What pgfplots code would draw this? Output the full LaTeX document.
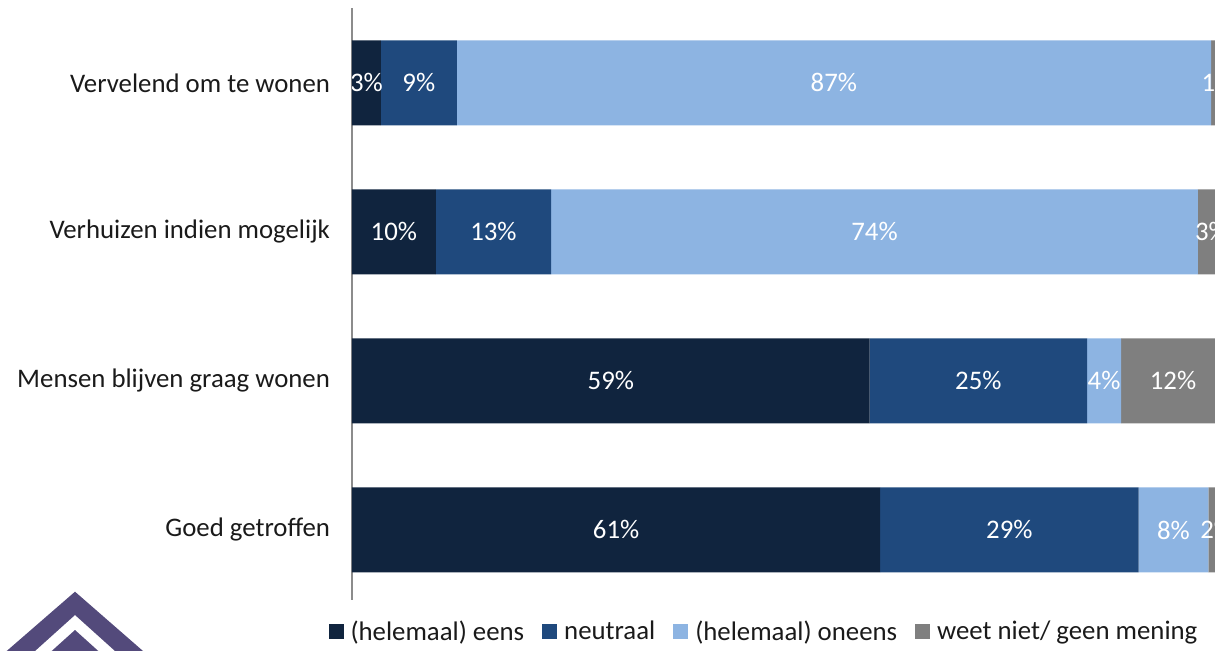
\documentclass[border=0pt]{standalone}
\usepackage{fontspec}
\setmainfont{Carlito}
\usepackage{pgfplots}
\pgfplotsset{compat=1.18}

\definecolor{cEens}{HTML}{10243E}
\definecolor{cNeutraal}{HTML}{1F497D}
\definecolor{cOneens}{HTML}{8DB4E2}
\definecolor{cWeet}{HTML}{7F7F7F}
\definecolor{axisgray}{HTML}{8C8C8C}
\definecolor{labeltext}{HTML}{1A1A1A}
\definecolor{logo}{HTML}{534A7B}

\newcommand{\lbl}{\fontsize{13.4}{16}\selectfont}

\begin{document}
\begin{tikzpicture}
% logo, in image pixels
\begin{scope}[x=0.5pt,y=-0.5pt]
\fill[logo] (75,591.7) -- (6.7,651) -- (35,651) -- (75,615) -- (115,651) -- (143,651) -- cycle;
\fill[logo] (75,630) -- (51.7,651) -- (98.3,651) -- cycle;
\end{scope}

% the axis runs to 100% past the right edge of the page, which cuts it off
\begin{axis}[
  at={(176pt,-300pt)}, anchor=south west,
  scale only axis, width=436.5pt, height=296pt,
  xbar stacked, bar width=42.5pt,
  xmin=0, xmax=100, ymin=-0.47, ymax=3.503,
  axis x line=none, axis y line=left,
  y axis line style={-, draw=axisgray, line width=0.8pt},
  ytick={0,1,2,3},
  yticklabels={Goed getroffen, Mensen blijven graag wonen, Verhuizen indien mogelijk, Vervelend om te wonen},
  major tick length=0pt, xtick=\empty,
  yticklabel style={font=\lbl, text=labeltext, xshift=-7.5pt},
  legend style={at={(0.473,-0.054)}, anchor=center, draw=none, fill=none,
    legend columns=-1, font=\lbl, text=labeltext,
    /tikz/every odd column/.append style={column sep=1.5pt},
    /tikz/every even column/.append style={column sep=7pt}},
  legend image code/.code={\fill[#1] (0pt,-3.75pt) rectangle (7.5pt,3.75pt);},
]
\addplot[fill=cEens, draw=none] coordinates {(60.5,0) (59.3,1) (9.6,2) (3.3,3)};
\addplot[fill=cNeutraal, draw=none] coordinates {(29.6,0) (24.9,1) (13.2,2) (8.7,3)};
\addplot[fill=cOneens, draw=none] coordinates {(8.0,0) (3.9,1) (74.1,2) (86.4,3)};
\addplot[fill=cWeet, draw=none] coordinates {(1.9,0) (11.9,1) (3.1,2) (1.6,3)};
\legend{(helemaal) eens, neutraal, (helemaal) oneens, weet niet/ geen mening}
\end{axis}

% value labels at the middle of each segment
\begin{axis}[
  at={(176pt,-300pt)}, anchor=south west,
  scale only axis, width=436.5pt, height=296pt,
  xmin=0, xmax=100, ymin=-0.47, ymax=3.503,
  hide axis, clip marker paths=true,
  nodes near coords, point meta=explicit symbolic,
  every node near coord/.append style={font=\lbl, text=white, anchor=center},
]
\addplot[draw=none, mark=none] coordinates {
  (30.25,0) [61\%] (75.3,0) [29\%] (94.1,0) [8\%] (99.05,0) [2\%]
};
\addplot[draw=none, mark=none] coordinates {
  (29.65,1) [59\%] (71.75,1) [25\%] (86.15,1) [4\%] (94.05,1) [12\%]
};
\addplot[draw=none, mark=none] coordinates {
  (4.8,2) [10\%] (16.2,2) [13\%] (59.85,2) [74\%] (98.45,2) [3\%]
};
\addplot[draw=none, mark=none] coordinates {
  (1.65,3) [3\%] (7.65,3) [9\%] (55.2,3) [87\%] (99.2,3) [1\%]
};
\end{axis}

\begin{scope}[x=0.5pt,y=-0.5pt]
\pgfresetboundingbox
\path[use as bounding box] (0,0) rectangle (1215,651);
\end{scope}
\end{tikzpicture}
\end{document}
